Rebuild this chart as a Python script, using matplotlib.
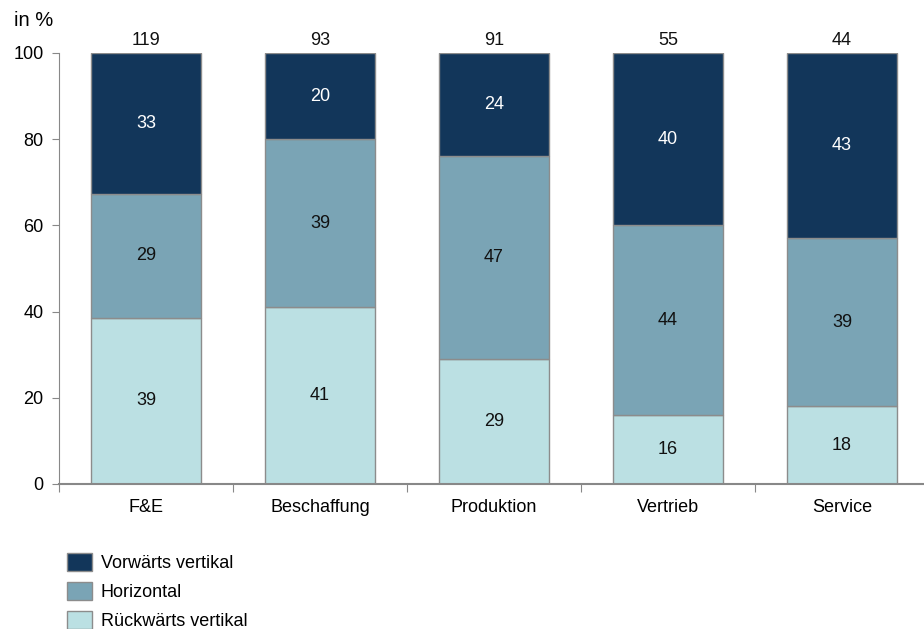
import matplotlib
matplotlib.use("Agg")
import matplotlib.pyplot as plt
import numpy as np
from matplotlib.patches import Patch

categories = ["F&E", "Beschaffung", "Produktion", "Vertrieb", "Service"]
totals = [119, 93, 91, 55, 44]
rueckwaerts = [39, 41, 29, 16, 18]
horizontal = [29, 39, 47, 44, 39]
vorwaerts = [33, 20, 24, 40, 43]
series_names = ["Vorwärts vertikal", "Horizontal", "Rückwärts vertikal"]
yticks = [0, 20, 40, 60, 80, 100]

c_dark = "#12365A"
c_mid = "#7AA4B5"
c_light = "#BBE0E3"
edge = "#8C8C8C"

plt.rcParams["font.family"] = ["Liberation Sans", "DejaVu Sans"]

fig = plt.figure(figsize=(9.24, 6.29), dpi=100)
ax = fig.add_axes([59/924, 1-484/629, 870/924, 431/629])

r = np.array(rueckwaerts, float)
h = np.array(horizontal, float)
v = np.array(vorwaerts, float)
s = r + h + v
rn, hn, vn = r/s*100, h/s*100, v/s*100
x = np.arange(len(categories))
w = 0.63

ax.bar(x, rn, w, color=c_light, edgecolor=edge, linewidth=1)
ax.bar(x, hn, w, bottom=rn, color=c_mid, edgecolor=edge, linewidth=1)
ax.bar(x, vn, w, bottom=rn+hn, color=c_dark, edgecolor=edge, linewidth=1)

fs = 13
for i in range(len(x)):
    ax.text(x[i], rn[i]/2, str(rueckwaerts[i]), ha="center", va="center", fontsize=fs, color="#111111")
    ax.text(x[i], rn[i]+hn[i]/2, str(horizontal[i]), ha="center", va="center", fontsize=fs, color="#111111")
    ax.text(x[i], rn[i]+hn[i]+vn[i]/2, str(vorwaerts[i]), ha="center", va="center", fontsize=fs, color="white")
    ax.text(x[i], 101.0, str(totals[i]), ha="center", va="bottom", fontsize=fs, color="#111111")

ax.set_xlim(-0.5, len(categories)-0.5)
ax.set_ylim(0, 100)
ax.set_yticks(yticks)
ax.set_yticklabels([str(t) for t in yticks], fontsize=fs)
ax.set_xticks(np.arange(len(categories)+1)-0.5)
ax.set_xticklabels([])
ax.set_xticks(x, minor=True)
ax.set_xticklabels(categories, minor=True, fontsize=fs)
ax.tick_params(axis="x", which="minor", length=0, pad=11)
ax.tick_params(axis="x", which="major", length=6, color="#888888", direction="out")
ax.tick_params(axis="y", length=5, color="#888888", direction="out", pad=6)
for sp in ["top", "right"]:
    ax.spines[sp].set_visible(False)
ax.spines["left"].set_color("#888888")
ax.spines["bottom"].set_color("#888888")
ax.spines["bottom"].set_linewidth(1.5)

fig.text(14/924, 1-21/629, "in %", fontsize=14.5, ha="left", va="center")

handles = [Patch(facecolor=c_dark, edgecolor=edge),
           Patch(facecolor=c_mid, edgecolor=edge),
           Patch(facecolor=c_light, edgecolor=edge)]
fig.legend(handles, series_names, loc="upper left", bbox_to_anchor=(62/924, 1-548/629),
           frameon=False, fontsize=fs, handlelength=1.35, handleheight=1.1,
           handletextpad=0.5, labelspacing=0.56, borderaxespad=0, borderpad=0.3)

fig.savefig("out.png", dpi=100)
